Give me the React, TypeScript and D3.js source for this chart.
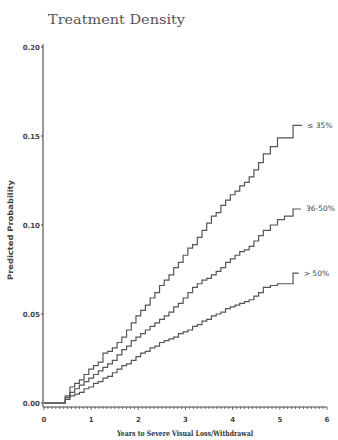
import React from "react";
import * as d3 from "d3";

const times = [0, 0.45, 0.55, 0.65, 0.75, 0.85, 0.95, 1.05, 1.15, 1.25, 1.35, 1.45, 1.55, 1.65, 1.75, 1.85, 1.95, 2.05, 2.15, 2.25, 2.35, 2.45, 2.55, 2.65, 2.75, 2.85, 2.95, 3.05, 3.15, 3.25, 3.35, 3.45, 3.55, 3.65, 3.75, 3.85, 3.95, 4.05, 4.15, 4.25, 4.35, 4.45, 4.55, 4.65, 4.8, 4.95, 5.1, 5.28];

const low = [0, 0.004, 0.009, 0.011, 0.013, 0.016, 0.019, 0.021, 0.023, 0.028, 0.029, 0.031, 0.034, 0.037, 0.041, 0.045, 0.049, 0.052, 0.055, 0.059, 0.062, 0.066, 0.069, 0.072, 0.076, 0.079, 0.083, 0.087, 0.089, 0.093, 0.097, 0.101, 0.105, 0.107, 0.111, 0.114, 0.117, 0.119, 0.122, 0.124, 0.127, 0.131, 0.135, 0.140, 0.144, 0.149, 0.149, 0.156];
const mid = [0, 0.003, 0.006, 0.008, 0.010, 0.012, 0.014, 0.016, 0.018, 0.020, 0.022, 0.024, 0.027, 0.030, 0.032, 0.035, 0.037, 0.039, 0.041, 0.043, 0.045, 0.047, 0.049, 0.051, 0.054, 0.056, 0.059, 0.062, 0.065, 0.067, 0.069, 0.070, 0.072, 0.074, 0.076, 0.079, 0.081, 0.083, 0.085, 0.086, 0.088, 0.091, 0.094, 0.097, 0.100, 0.103, 0.105, 0.109];
const high = [0, 0.002, 0.004, 0.005, 0.006, 0.008, 0.009, 0.011, 0.012, 0.014, 0.015, 0.017, 0.019, 0.021, 0.022, 0.024, 0.026, 0.028, 0.029, 0.031, 0.032, 0.034, 0.035, 0.036, 0.037, 0.039, 0.040, 0.041, 0.043, 0.044, 0.046, 0.047, 0.049, 0.050, 0.051, 0.053, 0.054, 0.055, 0.056, 0.057, 0.058, 0.060, 0.062, 0.065, 0.066, 0.067, 0.067, 0.073];

const seriesLabels = ["\u2264 35%", "36-50%", "> 50%"];
const seriesEnds = [5.47, 5.45, 5.4];
const yTicks = [0, 0.05, 0.1, 0.15, 0.2];
const xTicks = [0, 1, 2, 3, 4, 5, 6];

export default function App() {
  const x = d3.scaleLinear().domain([0, 6]).range([44, 327]);
  const y = d3.scaleLinear().domain([0, 0.2]).range([403, 47]);
  const axisY = 407;
  const series = [low, mid, high];
  const line = d3
    .line<[number, number]>()
    .x((d) => x(d[0]))
    .y((d) => y(d[1]))
    .curve(d3.curveStepAfter);
  const minor = d3.range(0, 6 * 12 + 1).map((i) => i / 12);
  const fmt = d3.format(".2f");
  const ink = "#444";

  return (
    <svg
      width={338}
      height={440}
      style={{ position: "absolute", left: 0, top: 0, background: "#fff" }}
    >
      <text
        x={48}
        y={24}
        fontFamily="DejaVu Serif"
        fontSize={12}
        fill="#555"
        textLength={137}
        lengthAdjust="spacingAndGlyphs"
      >
        Treatment Density
      </text>

      {/* Y axis */}
      <line x1={43} x2={43} y1={44} y2={axisY} stroke={ink} strokeWidth={1.1} />
      {yTicks.map((t) => (
        <g key={t}>
          <line x1={41} x2={43} y1={y(t)} y2={y(t)} stroke={ink} />
          <text
            x={40}
            y={y(t) + 2.5}
            textAnchor="end"
            fontFamily="DejaVu Sans"
            fontWeight="bold"
            fontSize={7}
            fill="#444"
          >
            {fmt(t)}
          </text>
        </g>
      ))}
      <text
        transform={`translate(13,230) rotate(-90)`}
        textAnchor="middle"
        fontFamily="DejaVu Sans"
        fontWeight="bold"
        fontSize={7.5}
        fill="#444"
        textLength={100}
        lengthAdjust="spacingAndGlyphs"
      >
        Predicted Probability
      </text>

      {/* X axis */}
      <line x1={43} x2={x(6)} y1={axisY} y2={axisY} stroke={ink} strokeWidth={1.1} />
      {minor.map((t, i) => (
        <line
          key={i}
          x1={x(t)}
          x2={x(t)}
          y1={axisY}
          y2={axisY + (i % 12 === 0 ? 3 : 2)}
          stroke={ink}
          strokeWidth={0.8}
        />
      ))}
      {xTicks.map((t) => (
        <text
          key={t}
          x={x(t)}
          y={422}
          textAnchor="middle"
          fontFamily="DejaVu Sans"
          fontWeight="bold"
          fontSize={7}
          fill="#444"
        >
          {t}
        </text>
      ))}
      <text
        x={185}
        y={436}
        textAnchor="middle"
        fontFamily="DejaVu Serif"
        fontWeight="bold"
        fontSize={7.5}
        fill="#333"
        textLength={136}
        lengthAdjust="spacingAndGlyphs"
      >
        Years to Severe Visual Loss/Withdrawal
      </text>

      {/* Curves */}
      {series.map((vals, si) => {
        const pts: [number, number][] = times.map((t, i) => [t, vals[i]]);
        pts.push([seriesEnds[si], vals[vals.length - 1]]);
        return (
          <g key={si}>
            <path d={line(pts) || ""} fill="none" stroke="#555" strokeWidth={1.2} />
            <text
              x={x(seriesEnds[si]) + 5}
              y={y(vals[vals.length - 1]) + 2.5}
              fontFamily="DejaVu Sans"
              fontSize={7.5}
              fill="#444"
            >
              {seriesLabels[si]}
            </text>
          </g>
        );
      })}
    </svg>
  );
}
